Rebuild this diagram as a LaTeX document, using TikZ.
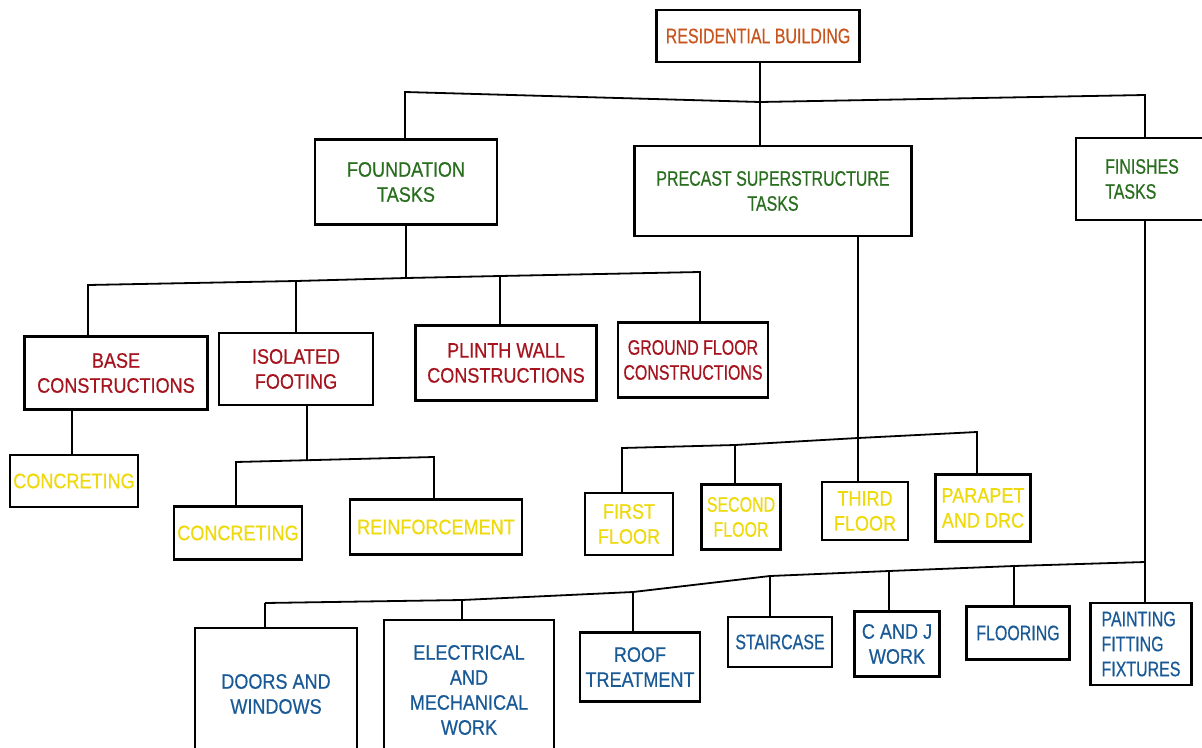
\documentclass[tikz,border=0pt]{standalone}
\usepackage{fontspec}
\setmainfont{Liberation Sans}[FakeStretch=0.76,FakeBold=0.5]
\newfontfamily\widefont{Liberation Sans}[FakeStretch=0.86,FakeBold=0.5]

\definecolor{topcol}{RGB}{200,85,30}
\definecolor{taskcol}{RGB}{40,110,30}
\definecolor{subcol}{RGB}{165,20,30}
\definecolor{workcol}{RGB}{238,218,10}
\definecolor{fincol}{RGB}{25,90,150}

\tikzset{
  box/.style={draw,line width=2.2pt,align=center,inner sep=3pt,
    font=\fontsize{21}{25}\selectfont},
  wide/.style={font=\fontsize{21}{25}\selectfont\widefont},
  link/.style={line width=1.8pt},
}

\begin{document}
\begin{tikzpicture}[x=1pt,y=-1pt]
  \useasboundingbox (0,0) rectangle (1202,747);
  \fill[white] (0,0) rectangle (1202,747);

  \node[box,text=topcol,minimum width=203pt,minimum height=52pt] (res) at (758,36) {RESIDENTIAL BUILDING};

  \node[box,wide,text=taskcol,minimum width=182pt,minimum height=85pt] (found) at (406,182) {FOUNDATION\\TASKS};
  \node[box,text=taskcol,minimum width=277pt,minimum height=90pt] (pre) at (773,191) {PRECAST SUPERSTRUCTURE\\TASKS};
  \node[box,text=taskcol,align=left,minimum width=132pt,minimum height=82pt] (fin) at (1142,179) {FINISHES\\TASKS};

  \node[box,wide,text=subcol,minimum width=183pt,minimum height=73pt] (base) at (116,373) {BASE\\CONSTRUCTIONS};
  \node[box,wide,text=subcol,minimum width=154pt,minimum height=72pt] (iso) at (296,369) {ISOLATED\\FOOTING};
  \node[box,wide,text=subcol,minimum width=181pt,minimum height=75pt] (plinth) at (506,363) {PLINTH WALL\\CONSTRUCTIONS};
  \node[box,text=subcol,minimum width=150pt,minimum height=75pt] (ground) at (693,360) {GROUND FLOOR\\CONSTRUCTIONS};

  \node[box,wide,text=workcol,minimum width=125pt,minimum height=52pt] (conca) at (74,481) {CONCRETING};
  \node[box,wide,text=workcol,minimum width=125pt,minimum height=53pt] (concb) at (238,533) {CONCRETING};
  \node[box,wide,text=workcol,minimum width=172pt,minimum height=55pt] (reinf) at (436,527) {REINFORCEMENT};

  \node[box,wide,text=workcol,minimum width=88pt,minimum height=62pt] (first) at (629,524) {FIRST\\FLOOR};
  \node[box,text=workcol,minimum width=79pt,minimum height=65pt] (second) at (741,517) {SECOND\\FLOOR};
  \node[box,wide,text=workcol,minimum width=86pt,minimum height=58pt] (third) at (865,511) {THIRD\\FLOOR};
  \node[box,wide,text=workcol,minimum width=95pt,minimum height=67pt] (para) at (983,508) {PARAPET\\AND DRC};

  \node[box,wide,text=fincol,minimum width=162pt,minimum height=132pt] (doors) at (276,694) {DOORS AND\\WINDOWS};
  \node[box,wide,text=fincol,minimum width=170pt,minimum height=140pt] (elec) at (469,690) {ELECTRICAL\\AND\\MECHANICAL\\WORK};
  \node[box,wide,text=fincol,minimum width=120pt,minimum height=69pt] (roof) at (640,667) {ROOF\\TREATMENT};
  \node[box,text=fincol,minimum width=104pt,minimum height=50pt] (stair) at (780,642) {STAIRCASE};
  \node[box,wide,text=fincol,minimum width=85pt,minimum height=65pt] (cj) at (897,644) {C AND J\\WORK};
  \node[box,text=fincol,minimum width=103pt,minimum height=53pt] (floor) at (1018,633) {FLOORING};
  \node[box,text=fincol,align=left,minimum width=101pt,minimum height=82pt] (paint) at (1141,644) {PAINTING\\FITTING\\FIXTURES};

  \coordinate (t1) at (405,92);
  \coordinate (t2) at (760,102);
  \coordinate (t3) at (1145,95);
  \draw[link] (t2 |- res.south) -- (t2) -- (t2 |- pre.north);
  \draw[link] (t1 |- found.north) -- (t1) -- (t2) -- (t3) -- (t3 |- fin.north);

  \coordinate (f1) at (88,285);
  \coordinate (f2) at (296,281);
  \coordinate (f0) at (406,278);
  \coordinate (f3) at (500,276);
  \coordinate (f4) at (700,272);
  \draw[link] (f0 |- found.south) -- (f0);
  \draw[link] (f1 |- base.north) -- (f1) -- (f2) -- (f0) -- (f3) -- (f4) -- (f4 |- ground.north);
  \foreach \j/\n in {f2/iso,f3/plinth}
    \draw[link] (\j) -- (\j |- \n.north);

  \coordinate (b1) at (72,0);
  \draw[link] (b1 |- base.south) -- (b1 |- conca.north);

  \coordinate (i0) at (307,460);
  \coordinate (i1) at (236,462);
  \coordinate (i2) at (434,457);
  \draw[link] (i0 |- iso.south) -- (i0);
  \draw[link] (i1 |- concb.north) -- (i1) -- (i2) -- (i2 |- reinf.north);

  \coordinate (p1) at (622,448);
  \coordinate (p2) at (735,445);
  \coordinate (p3) at (858,438);
  \coordinate (p4) at (977,432);
  \draw[link] (p3 |- pre.south) -- (p3) -- (p3 |- third.north);
  \draw[link] (p1 |- first.north) -- (p1) -- (p2) -- (p3) -- (p4) -- (p4 |- para.north);
  \draw[link] (p2) -- (p2 |- second.north);

  \coordinate (l1) at (265,603);
  \coordinate (l2) at (462,600);
  \coordinate (l3) at (633,592);
  \coordinate (l4) at (770,576);
  \coordinate (l5) at (889,571);
  \coordinate (l6) at (1014,566);
  \coordinate (l7) at (1145,562);
  \draw[link] (l7 |- fin.south) -- (l7) -- (l7 |- paint.north);
  \draw[link] (l1) -- (l2) -- (l3) -- (l4) -- (l5) -- (l6) -- (l7);
  \foreach \j/\n in {l1/doors,l2/elec,l3/roof,l4/stair,l5/cj,l6/floor}
    \draw[link] (\j) -- (\j |- \n.north);
\end{tikzpicture}
\end{document}
